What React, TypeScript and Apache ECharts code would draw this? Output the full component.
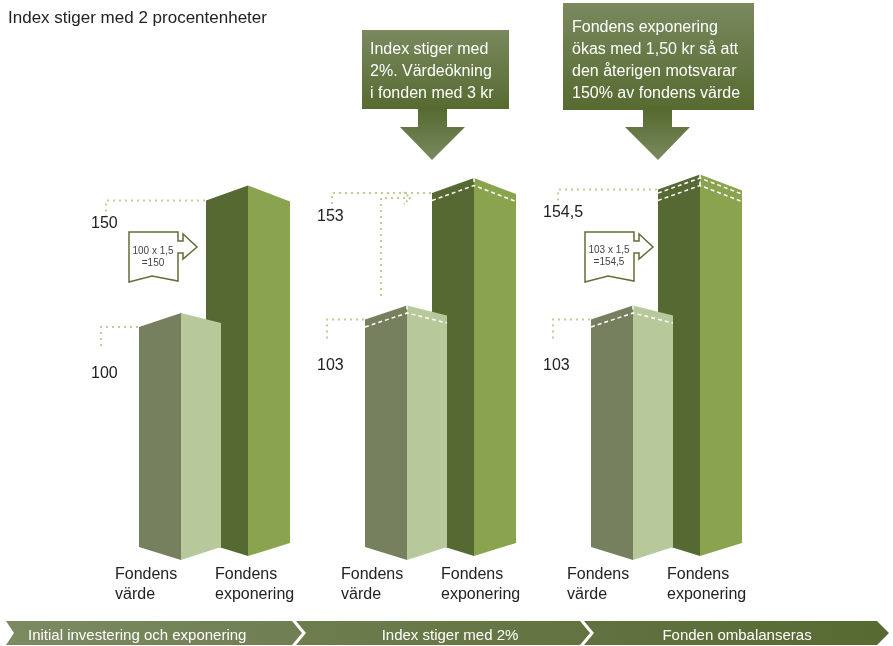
import React, { useEffect, useRef } from 'react';
import * as echarts from 'echarts';

// ---- data ----
const stages = ['Initial investering och exponering', 'Index stiger med 2%', 'Fonden ombalanseras'];
const fundValue = [100, 103, 103];
const fundExposure = [150, 153, 154.5];
const valuePrevLevels: number[][] = [[], [100], [100]];
const exposurePrevLevels: number[][] = [[], [150], [150, 153]];
const barNames = ['Fondens\nvärde', 'Fondens\nexponering'];
const title = 'Index stiger med 2 procentenheter';
const box2Text = ['Index stiger med', '2%. Värdeökning', 'i fonden med 3 kr'];
const box3Text = ['Fondens exponering', 'ökas med 1,50 kr så att', 'den återigen motsvarar', '150% av fondens värde'];
const callout1Text = ['100 x 1,5', '=150'];
const callout3Text = ['103 x 1,5', '=154,5'];

const FONT = '"Liberation Sans", Arial, Helvetica, sans-serif';
const DOT = '#bccf98';

const fmt = (v: number) => String(v).replace('.', ',');

function makeRender(kind: 'v' | 'e', levels: number[][]) {
  return (params: any, api: any) => {
    const i = params.dataIndex;
    const cat = api.value(0);
    const val = api.value(1);
    const tp = api.coord([cat, val]);
    const bp = api.coord([cat, 0]);
    const cx = tp[0];
    const isE = kind === 'e';
    const shift = isE ? -4 : 0;
    const fx = isE ? cx + 34 : cx - 33;
    const sfx = cx - 33;
    const top = tp[1] + shift;
    const base = bp[1] + shift;
    const lw = 42;
    const rw = isE ? 42 : 40;
    const ld = isE ? 15 : 14;
    const rd = isE ? 16 : 10;
    const bd = 13;
    const cLeft = isE ? '#576932' : '#76805e';
    const cRight = isE ? '#8aa34f' : '#b7c99a';
    const children: any[] = [
      {
        type: 'polygon',
        shape: { points: [[fx - lw, top + ld], [fx, top], [fx, base], [fx - lw, base - bd]] },
        style: { fill: cLeft },
      },
      {
        type: 'polygon',
        shape: { points: [[fx, top], [fx + rw, top + rd], [fx + rw, base - bd], [fx, base]] },
        style: { fill: cRight },
      },
    ];
    const lv = levels[i] || [];
    let lowest = top;
    lv.forEach((l) => {
      const y = api.coord([cat, l])[1] + shift;
      lowest = Math.max(lowest, y);
      children.push({
        type: 'polyline',
        shape: { points: [[fx - lw, y + ld], [fx, y], [fx + rw, y + rd]] },
        style: { stroke: '#ffffff', lineWidth: 1.5, lineDash: [4, 3], fill: null },
      });
    });
    if (lv.length) {
      children.push({
        type: 'polyline',
        shape: { points: [[fx, top], [fx, lowest]] },
        style: { stroke: '#ffffff', lineWidth: 1.5, lineDash: [4, 3], fill: null },
      });
    }
    // leader line + value label
    const cornerY = top + ld;
    const leadX = isE ? sfx - 75 : sfx - 80;
    const down = isE ? 16 : 23;
    children.push({
      type: 'polyline',
      shape: { points: [[fx - lw - 1, cornerY], [leadX, cornerY], [leadX, cornerY + down]] },
      style: { stroke: DOT, lineWidth: 2, lineDash: [2, 4], fill: null },
    });
    children.push({
      type: 'text',
      style: {
        text: fmt(val),
        x: sfx - 90,
        y: cornerY + (isE ? 22 : 45),
        fill: '#222',
        fontSize: 16,
        fontFamily: FONT,
        align: 'left',
        verticalAlign: 'middle',
      },
    });
    // category label under the bar
    children.push({
      type: 'text',
      style: {
        text: isE ? barNames[1] : barNames[0],
        x: isE ? fx - 33 : fx - 66,
        y: bp[1] + 3,
        fill: '#222',
        fontSize: 16,
        lineHeight: 20,
        fontFamily: FONT,
        align: 'left',
        verticalAlign: 'top',
      },
    });
    return { type: 'group', children };
  };
}

function calloutPoints(L: number, T: number) {
  return [
    [L, T], [L + 49, T], [L + 49, T + 9], [L + 54, T + 9], [L + 54, T + 2], [L + 68, T + 15],
    [L + 54, T + 27], [L + 54, T + 21], [L + 49, T + 21], [L + 49, T + 49], [L + 23, T + 44], [L, T + 50],
  ];
}

function downArrow(x1: number, x2: number, y0: number, y1: number, hx1: number, hx2: number, tipX: number, tipY: number) {
  return [[x1, y0], [x2, y0], [x2, y1], [hx2, y1], [tipX, tipY], [hx1, y1], [x1, y1]];
}

const boxGrad = () =>
  new echarts.graphic.LinearGradient(0, 0, 0, 1, [
    { offset: 0, color: '#7a895e' },
    { offset: 1, color: '#566a30' },
  ]);
const arrowGrad = () =>
  new echarts.graphic.LinearGradient(0, 0, 0, 1, [
    { offset: 0, color: '#566a30' },
    { offset: 1, color: '#7a8a5f' },
  ]);
const segGrad = (a: string, b: string) =>
  new echarts.graphic.LinearGradient(0, 0, 1, 0, [
    { offset: 0, color: a },
    { offset: 1, color: b },
  ]);

export default function App() {
  const ref = useRef<HTMLDivElement>(null);
  useEffect(() => {
    document.body.style.margin = '0';
    const chart = echarts.init(ref.current!, undefined, { renderer: 'svg' });
    const segs = [
      { pts: [[6, 621], [292, 621], [302, 633], [292, 645], [6, 645], [14, 633]], c: ['#7b8a61', '#6f7f52'] },
      { pts: [[296, 621], [580, 621], [590, 633], [580, 645], [296, 645], [306, 633]], c: ['#6d7d4e', '#627340'] },
      { pts: [[584, 621], [877, 621], [889, 633], [877, 645], [584, 645], [594, 633]], c: ['#617240', '#566a31'] },
    ];
    const segTextX = [28, 450, 737];
    const graphic: any[] = [
      {
        type: 'text', x: 8, y: 17, z: 50,
        style: { text: title, fill: '#222', fontSize: 17, fontFamily: FONT, verticalAlign: 'middle' },
      },
      // step band
      ...segs.map((s) => ({
        type: 'polygon', z: 50, shape: { points: s.pts }, style: { fill: segGrad(s.c[0], s.c[1]) },
      })),
      ...stages.map((t, k) => ({
        type: 'text', x: segTextX[k], y: 634, z: 51,
        style: {
          text: t, fill: '#ffffff', fontSize: 15, fontFamily: FONT,
          align: k === 0 ? 'left' : 'center', verticalAlign: 'middle',
        },
      })),
      // box 2
      { type: 'rect', z: 50, shape: { x: 362, y: 30, width: 147, height: 79 }, style: { fill: boxGrad() } },
      {
        type: 'text', x: 370, y: 37, z: 51,
        style: { text: box2Text.join('\n'), fill: '#fff', fontSize: 16, lineHeight: 22, fontFamily: FONT, verticalAlign: 'top' },
      },
      { type: 'polygon', z: 50, shape: { points: downArrow(418, 447, 109, 127, 400, 465, 432, 160) }, style: { fill: arrowGrad() } },
      // box 3
      { type: 'rect', z: 50, shape: { x: 563, y: 3, width: 191, height: 107 }, style: { fill: boxGrad() } },
      {
        type: 'text', x: 572, y: 15, z: 51,
        style: { text: box3Text.join('\n'), fill: '#fff', fontSize: 16, lineHeight: 22, fontFamily: FONT, verticalAlign: 'top' },
      },
      { type: 'polygon', z: 50, shape: { points: downArrow(643, 672, 110, 127, 625, 690, 658, 160) }, style: { fill: arrowGrad() } },
      // callouts
      { type: 'polygon', z: 50, shape: { points: calloutPoints(129, 232) }, style: { fill: '#fff', stroke: '#5f7038', lineWidth: 1.5 } },
      {
        type: 'text', x: 153, y: 256, z: 51,
        style: { text: callout1Text.join('\n'), fill: '#444', fontSize: 10, lineHeight: 12, fontFamily: FONT, align: 'center', verticalAlign: 'middle' },
      },
      { type: 'polygon', z: 50, shape: { points: calloutPoints(585, 232) }, style: { fill: '#fff', stroke: '#5f7038', lineWidth: 1.5 } },
      {
        type: 'text', x: 609, y: 255, z: 51,
        style: { text: callout3Text.join('\n'), fill: '#444', fontSize: 10, lineHeight: 12, fontFamily: FONT, align: 'center', verticalAlign: 'middle' },
      },
      // dotted arrow in stage 2
      {
        type: 'polyline', z: 50, shape: { points: [[381, 296], [381, 198], [410, 198]] },
        style: { stroke: DOT, lineWidth: 2, lineDash: [2, 4], fill: null },
      },
      {
        type: 'polyline', z: 50, shape: { points: [[404, 192], [410, 198], [404, 204]] },
        style: { stroke: DOT, lineWidth: 2, lineDash: [2, 2], fill: null },
      },
    ];

    chart.setOption({
      animation: false,
      grid: { left: 101, right: 114, top: 66, bottom: 86 },
      xAxis: { type: 'category', data: stages, show: false },
      yAxis: { type: 'value', min: 0, max: 200, show: false, splitLine: { show: false } },
      series: [
        {
          type: 'custom',
          name: 'Fondens exponering',
          renderItem: makeRender('e', exposurePrevLevels),
          encode: { x: 0, y: 1 },
          data: fundExposure.map((v, k) => [k, v]),
          silent: true,
          z: 2,
        },
        {
          type: 'custom',
          name: 'Fondens värde',
          renderItem: makeRender('v', valuePrevLevels),
          encode: { x: 0, y: 1 },
          data: fundValue.map((v, k) => [k, v]),
          silent: true,
          z: 3,
        },
      ],
      graphic,
    });
    return () => chart.dispose();
  }, []);
  return <div ref={ref} style={{ width: 893, height: 646, position: 'fixed', left: 0, top: 0 }} />;
}
